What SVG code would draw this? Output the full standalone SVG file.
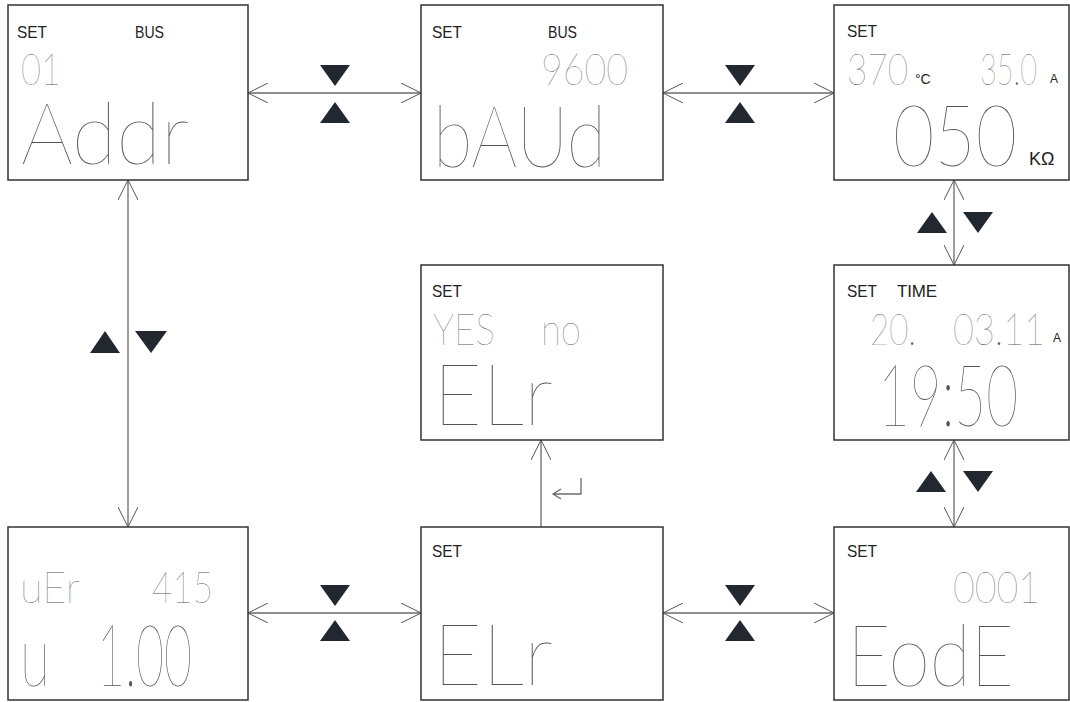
<svg xmlns="http://www.w3.org/2000/svg" width="1070" height="702" viewBox="0 0 1070 702">
<style>
.box{fill:#fff;stroke:#333;stroke-width:1.5}
.lbl{font-family:"Liberation Sans Narrow","Liberation Sans",Arial,sans-serif;font-size:17px;fill:#222}
.unit{font-family:"Liberation Sans Narrow","Liberation Sans",Arial,sans-serif;fill:#222}
.seg{font-family:Lato,Roboto,"DejaVu Sans",sans-serif;fill:#555}
.s{font-size:44px;font-weight:200}
.L{font-size:86px;font-weight:100}
.con{stroke:#6a6a6a;stroke-width:1.3;fill:none}
.tri{fill:#232830}
</style>
<defs>
<marker id="arr" viewBox="0 0 20 20" markerWidth="20" markerHeight="20" refX="20" refY="10" markerUnits="userSpaceOnUse" orient="auto-start-reverse">
<path d="M0,0 L20,10 L0,20" fill="none" stroke="#555" stroke-width="1"/>
</marker>
</defs>
<rect width="1070" height="702" fill="#fff"/>
<g id="connectors">
<line class="con" x1="248" y1="93" x2="421" y2="93" marker-start="url(#arr)" marker-end="url(#arr)"/>
<polygon class="tri" points="320,65 350,65 335,86"/>
<polygon class="tri" points="335,102 320,123 350,123"/>
<line class="con" x1="663" y1="93" x2="834" y2="93" marker-start="url(#arr)" marker-end="url(#arr)"/>
<polygon class="tri" points="725,65 755,65 740,86"/>
<polygon class="tri" points="740,102 725,123 755,123"/>
<line class="con" x1="128" y1="180" x2="128" y2="527" marker-start="url(#arr)" marker-end="url(#arr)"/>
<polygon class="tri" points="105,331 90,353 120,353"/>
<polygon class="tri" points="135,331 167,331 151,353"/>
<line class="con" x1="954" y1="180" x2="954" y2="265" marker-start="url(#arr)" marker-end="url(#arr)"/>
<polygon class="tri" points="932,212 917,233 947,233"/>
<polygon class="tri" points="963,212 993,212 978,233"/>
<line class="con" x1="954" y1="440" x2="954" y2="527" marker-start="url(#arr)" marker-end="url(#arr)"/>
<polygon class="tri" points="931,471 916,492 946,492"/>
<polygon class="tri" points="963,471 993,471 978,492"/>
<line class="con" x1="248" y1="613" x2="421" y2="613" marker-start="url(#arr)" marker-end="url(#arr)"/>
<polygon class="tri" points="320,585 350,585 335,606"/>
<polygon class="tri" points="335,620 320,641 350,641"/>
<line class="con" x1="663" y1="613" x2="834" y2="613" marker-start="url(#arr)" marker-end="url(#arr)"/>
<polygon class="tri" points="725,585 755,585 740,606"/>
<polygon class="tri" points="740,620 725,641 755,641"/>
<line class="con" x1="541" y1="527" x2="541" y2="440" marker-end="url(#arr)"/>
<path class="con" d="M581,478 V494 H553 M561,489 L553,494 L561,499" stroke-width="1"/>
</g>
<g id="node-addr">
<rect class="box" x="8" y="5" width="240" height="175"/>
<text class="lbl" x="17" y="38" textLength="30" lengthAdjust="spacingAndGlyphs">SET</text>
<text class="lbl" x="135" y="38" textLength="29" lengthAdjust="spacingAndGlyphs">BUS</text>
<text class="seg s" x="21" y="85" textLength="40" lengthAdjust="spacingAndGlyphs">01</text>
<text class="seg L" x="21" y="164" textLength="168" lengthAdjust="spacingAndGlyphs">Addr</text>
</g>
<g id="node-baud">
<rect class="box" x="421" y="5" width="242" height="175"/>
<text class="lbl" x="432" y="38" textLength="30" lengthAdjust="spacingAndGlyphs">SET</text>
<text class="lbl" x="548" y="38" textLength="29" lengthAdjust="spacingAndGlyphs">BUS</text>
<text class="seg s" x="541" y="85" textLength="87" lengthAdjust="spacingAndGlyphs">9600</text>
<text class="seg L" x="433" y="167" textLength="173" lengthAdjust="spacingAndGlyphs">bAUd</text>
</g>
<g id="node-set-ohm">
<rect class="box" x="834" y="5" width="235" height="175"/>
<text class="lbl" x="847" y="37" textLength="30" lengthAdjust="spacingAndGlyphs">SET</text>
<text class="seg s" x="847" y="85" textLength="61" lengthAdjust="spacingAndGlyphs">370</text>
<text class="unit" x="915" y="84" font-size="14">°C</text>
<text class="seg s" x="980" y="85" textLength="57" lengthAdjust="spacingAndGlyphs">35.0</text>
<text class="unit" x="1050" y="83" font-size="12">A</text>
<text class="seg L" x="893" y="166" textLength="124" lengthAdjust="spacingAndGlyphs">050</text>
<text class="unit" x="1029" y="165" font-size="18">KΩ</text>
</g>
<g id="node-clr-confirm">
<rect class="box" x="421" y="265" width="242" height="175"/>
<text class="lbl" x="432" y="297" textLength="30" lengthAdjust="spacingAndGlyphs">SET</text>
<text class="seg s" x="433" y="345" textLength="62" lengthAdjust="spacingAndGlyphs">YES</text>
<text class="seg s" x="541" y="345" textLength="40" lengthAdjust="spacingAndGlyphs">no</text>
<text class="seg L" x="433" y="425" textLength="120" lengthAdjust="spacingAndGlyphs">ELr</text>
</g>
<g id="node-time">
<rect class="box" x="834" y="265" width="235" height="175"/>
<text class="lbl" x="847" y="297" textLength="30" lengthAdjust="spacingAndGlyphs">SET</text>
<text class="lbl" x="897" y="297" textLength="40">TIME</text>
<text class="seg s" x="870" y="345" textLength="46" lengthAdjust="spacingAndGlyphs">20.</text>
<text class="seg s" x="953" y="345" textLength="92" lengthAdjust="spacingAndGlyphs">03.11</text>
<text class="unit" x="1053" y="342" font-size="12">A</text>
<text class="seg L" x="878" y="426" textLength="140" lengthAdjust="spacingAndGlyphs">19:50</text>
</g>
<g id="node-version">
<rect class="box" x="8" y="527" width="240" height="173"/>
<text class="seg s" x="20" y="603" textLength="60" lengthAdjust="spacingAndGlyphs">uEr</text>
<text class="seg s" x="152" y="603" textLength="61" lengthAdjust="spacingAndGlyphs">415</text>
<text class="seg L" x="20" y="686" textLength="30" lengthAdjust="spacingAndGlyphs">u</text>
<text class="seg L" x="97" y="686" textLength="95" lengthAdjust="spacingAndGlyphs">1.00</text>
</g>
<g id="node-clr">
<rect class="box" x="421" y="527" width="242" height="173"/>
<text class="lbl" x="432" y="557" textLength="30" lengthAdjust="spacingAndGlyphs">SET</text>
<text class="seg L" x="433" y="685" textLength="120" lengthAdjust="spacingAndGlyphs">ELr</text>
</g>
<g id="node-code">
<rect class="box" x="834" y="527" width="235" height="173"/>
<text class="lbl" x="847" y="557" textLength="30" lengthAdjust="spacingAndGlyphs">SET</text>
<text class="seg s" x="953" y="603" textLength="87" lengthAdjust="spacingAndGlyphs">0001</text>
<text class="seg L" x="847" y="686" textLength="167" lengthAdjust="spacingAndGlyphs">EodE</text>
</g>
</svg>
